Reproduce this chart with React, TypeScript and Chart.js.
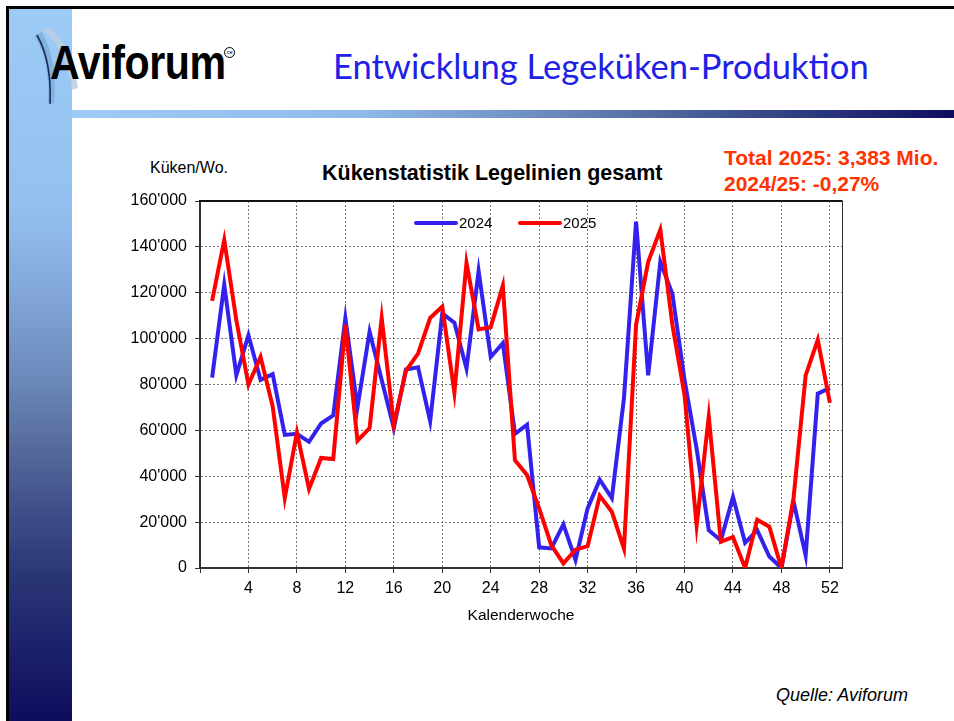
import React, { useEffect, useRef } from "react";
import { Chart, registerables } from "chart.js";

Chart.register(...registerables);

// ---------- data ----------
const WEEKS = [
  1, 2, 3, 4, 5, 6, 7, 8, 9, 10, 11, 12, 13, 14, 15, 16, 17, 18, 19, 20, 21, 22, 23, 24, 25, 26,
  27, 28, 29, 30, 31, 32, 33, 34, 35, 36, 37, 38, 39, 40, 41, 42, 43, 44, 45, 46, 47, 48, 49, 50, 51, 52,
];

const CHICKS_2024 = [
  83000, 123500, 84000, 101500, 82000, 84500, 58000, 58500, 55000, 63000, 66500, 109000, 70000,
  103000, 82000, 61000, 86500, 87500, 64000, 111000, 107000, 87000, 129500, 92000, 98000, 58500,
  62500, 9000, 8500, 19000, 3500, 26000, 38500, 30500, 74000, 151000, 84000, 133500, 119500,
  82000, 52000, 16500, 12000, 31000, 11000, 16500, 5000, 0, 29000, 5500, 76000, 78500,
];

const CHICKS_2025 = [
  116500, 143000, 108000, 80000, 92000, 70500, 30500, 59000, 34500, 48000, 47500, 106000, 55500,
  61000, 109000, 62500, 86000, 93500, 109000, 114000, 76500, 133000, 104000, 105000, 123000, 47000,
  40500, 26000, 10000, 2000, 8000, 9500, 31500, 24500, 8500, 106000, 133500, 147500, 106000,
  75500, 18500, 66000, 11500, 13500, 0, 21000, 18000, 0, 30500, 84000, 99500, 72000,
];

const SERIES_NAMES = ["2024", "2025"];
const SERIES_COLORS = ["#3322ee", "#ff0000"];

const X_TICKS = [0, 4, 8, 12, 16, 20, 24, 28, 32, 36, 40, 44, 48, 52];
const Y_TICKS = [0, 20000, 40000, 60000, 80000, 100000, 120000, 140000, 160000];
const X_MIN = 0;
const X_MAX = 53;
const Y_MIN = 0;
const Y_MAX = 160000;

const PAGE_TITLE = "Entwicklung Legeküken-Produktion";
const CHART_TITLE = "Kükenstatistik Legelinien gesamt";
const Y_TITLE = "Küken/Wo.";
const X_TITLE = "Kalenderwoche";
const NOTE_LINES = ["Total 2025: 3,383 Mio.", "2024/25: -0,27%"];
const SOURCE = "Quelle: Aviforum";

const FONT = "'Liberation Sans', Arial, Helvetica, sans-serif";

const fmtThousands = (v: number) => String(v).replace(/\B(?=(\d{3})+(?!\d))/g, "'");

// ---------- plugins ----------
const framePlugin = {
  id: "frame",
  afterDatasetsDraw(chart: any) {
    const { ctx, chartArea } = chart;
    const { left, right, top } = chartArea;
    ctx.save();
    ctx.strokeStyle = "#111";
    ctx.lineWidth = 2;
    ctx.beginPath();
    ctx.moveTo(left - 1, top);
    ctx.lineTo(right + 0.5, top);
    ctx.stroke();
    ctx.lineWidth = 1;
    ctx.strokeStyle = "#333";
    ctx.beginPath();
    ctx.moveTo(right + 0.5, top);
    ctx.lineTo(right + 0.5, chartArea.bottom);
    ctx.stroke();
    ctx.restore();
  },
};

const insideLegendPlugin = {
  id: "insideLegend",
  afterDatasetsDraw(chart: any) {
    const { ctx, chartArea } = chart;
    ctx.save();
    ctx.font = `15px ${FONT}`;
    ctx.textBaseline = "middle";
    ctx.textAlign = "left";
    const y = chartArea.top + 22;
    let x = chartArea.left + 216;
    chart.data.datasets.forEach((ds: any) => {
      ctx.strokeStyle = ds.borderColor;
      ctx.lineWidth = 4;
      ctx.lineCap = "round";
      ctx.beginPath();
      ctx.moveTo(x, y);
      ctx.lineTo(x + 40, y);
      ctx.stroke();
      ctx.fillStyle = "#000";
      ctx.fillText(ds.label, x + 43, y + 1);
      x += 104;
    });
    ctx.restore();
  },
};

function ChickChart() {
  const ref = useRef<HTMLCanvasElement | null>(null);

  useEffect(() => {
    if (!ref.current) return;
    const chart = new Chart(ref.current, {
      type: "line",
      data: {
        labels: WEEKS,
        datasets: [
          {
            label: SERIES_NAMES[0],
            data: CHICKS_2024,
            borderColor: SERIES_COLORS[0],
            backgroundColor: SERIES_COLORS[0],
            borderWidth: 4,
            pointRadius: 0,
            tension: 0,
            fill: false,
            order: 2,
          },
          {
            label: SERIES_NAMES[1],
            data: CHICKS_2025,
            borderColor: SERIES_COLORS[1],
            backgroundColor: SERIES_COLORS[1],
            borderWidth: 4,
            pointRadius: 0,
            tension: 0,
            fill: false,
            order: 1,
          },
        ],
      },
      options: {
        responsive: false,
        animation: false,
        devicePixelRatio: 1,
        layout: { padding: { top: 0, right: 18, left: 0, bottom: 0 } },
        plugins: {
          legend: { display: false },
          tooltip: { enabled: false },
          title: { display: false },
        },
        scales: {
          x: {
            type: "linear",
            min: X_MIN,
            max: X_MAX,
            afterBuildTicks: (s: any) => {
              s.ticks = X_TICKS.map((v) => ({ value: v }));
            },
            afterFit: (s: any) => {
              s.height = 62;
            },
            ticks: {
              autoSkip: false,
              maxRotation: 0,
              padding: 6,
              color: "#000",
              font: { family: FONT, size: 16 },
              callback: (v: any) => (v === 0 ? "" : String(v)),
            },
            grid: {
              color: "#777",
              lineWidth: 1,
              drawTicks: true,
              tickLength: 5,
              tickColor: "#333",
              tickBorderDash: [],
            },
            border: { display: true, color: "#333", width: 2, dash: [2, 2] },
            title: {
              display: true,
              text: X_TITLE,
              color: "#000",
              font: { family: FONT, size: 15.5 },
              padding: { top: 0, bottom: 5 },
            },
          },
          y: {
            type: "linear",
            min: Y_MIN,
            max: Y_MAX,
            afterBuildTicks: (s: any) => {
              s.ticks = Y_TICKS.map((v) => ({ value: v }));
            },
            afterFit: (s: any) => {
              s.width = 70;
            },
            ticks: {
              padding: 8,
              color: "#000",
              font: { family: FONT, size: 16, lineHeight: 1.25 },
              callback: (v: any) => fmtThousands(Number(v)),
            },
            grid: {
              color: "#777",
              lineWidth: 1,
              drawTicks: true,
              tickLength: 5,
              tickColor: "#333",
              tickBorderDash: [],
            },
            border: { display: true, color: "#333", width: 2, dash: [2, 2] },
          },
        },
      },
      plugins: [framePlugin, insideLegendPlugin],
    } as any);
    return () => chart.destroy();
  }, []);

  return (
    <canvas
      ref={ref}
      width={730}
      height={447}
      style={{ position: "absolute", left: 130, top: 183, width: 730, height: 447 }}
    />
  );
}

export default function App() {
  return (
    <div
      style={{
        position: "fixed",
        left: 0,
        top: 0,
        width: 954,
        height: 721,
        overflow: "hidden",
        background: "#fff",
        fontFamily: FONT,
      }}
    >
      {/* slide frame */}
      <div style={{ position: "absolute", left: 6, top: 6, width: 948, height: 3, background: "#000" }} />
      <div style={{ position: "absolute", left: 6, top: 6, width: 3, height: 715, background: "#000" }} />
      {/* left gradient bar */}
      <div
        style={{
          position: "absolute",
          left: 9,
          top: 9,
          width: 63,
          height: 712,
          background:
            "linear-gradient(to bottom, #9dcbf6 0%, #93c0ee 28%, #82a6d8 40%, #6f8fc0 50%, #5a70a0 60%, #40508a 70%, #2a3575 80%, #0d0d5e 100%)",
        }}
      />
      {/* horizontal gradient bar */}
      <div
        style={{
          position: "absolute",
          left: 72,
          top: 110,
          width: 882,
          height: 8,
          background:
            "linear-gradient(to right, #9dcbf6 0%, #8fbbea 32%, #6f8fc4 52%, #3c4f8c 76%, #0d0d5e 100%)",
        }}
      />
      {/* logo */}
      <svg
        width="56"
        height="80"
        viewBox="0 0 56 80"
        style={{ position: "absolute", left: 28, top: 28 }}
      >
        <path d="M6 8 Q22 30 20 74 L26 76 Q30 34 14 4 Z" fill="#7fb0dc" opacity="0.9" />
        <path d="M14 2 Q38 20 44 62 L50 60 Q44 18 22 0 Z" fill="#b7cfe3" opacity="0.85" />
        <path d="M9 7 Q24 34 22 76" stroke="#1d2c5c" strokeWidth="1.6" fill="none" />
      </svg>
      <div
        style={{
          position: "absolute",
          left: 50,
          top: 38,
          fontSize: 49,
          lineHeight: "49px",
          fontWeight: 700,
          color: "#000",
          transform: "scaleX(0.84)",
          transformOrigin: "left top",
          whiteSpace: "nowrap",
          letterSpacing: -0.5,
        }}
      >
        Aviforum
      </div>
      <div
        style={{
          position: "absolute",
          left: 224,
          top: 47,
          width: 9,
          height: 9,
          border: "1px solid #000",
          borderRadius: "50%",
          fontSize: 4,
          lineHeight: "9px",
          textAlign: "center",
          fontWeight: 700,
        }}
      >
        CH
      </div>
      {/* page title */}
      <div
        style={{
          position: "absolute",
          left: 333,
          top: 48,
          fontFamily: "Lato, 'Liberation Sans', sans-serif",
          fontSize: 34.5,
          lineHeight: "35px",
          fontWeight: 400,
          color: "#2020e6",
          whiteSpace: "nowrap",
        }}
      >
        {PAGE_TITLE}
      </div>
      {/* chart texts */}
      <div
        style={{
          position: "absolute",
          left: 150,
          top: 160,
          fontSize: 16,
          lineHeight: "16px",
          color: "#000",
          whiteSpace: "nowrap",
        }}
      >
        {Y_TITLE}
      </div>
      <div
        style={{
          position: "absolute",
          left: 322,
          top: 163,
          fontSize: 21.5,
          lineHeight: "21px",
          fontWeight: 700,
          color: "#000",
          whiteSpace: "nowrap",
        }}
      >
        {CHART_TITLE}
      </div>
      <div
        style={{
          position: "absolute",
          left: 724,
          top: 145,
          fontSize: 21,
          lineHeight: "26px",
          fontWeight: 700,
          color: "#ff3300",
          whiteSpace: "nowrap",
        }}
      >
        {NOTE_LINES.map((t) => (
          <div key={t}>{t}</div>
        ))}
      </div>
      <ChickChart />
      <div
        style={{
          position: "absolute",
          left: 776,
          top: 686,
          fontSize: 18,
          lineHeight: "18px",
          fontStyle: "italic",
          color: "#000",
          whiteSpace: "nowrap",
        }}
      >
        {SOURCE}
      </div>
    </div>
  );
}
